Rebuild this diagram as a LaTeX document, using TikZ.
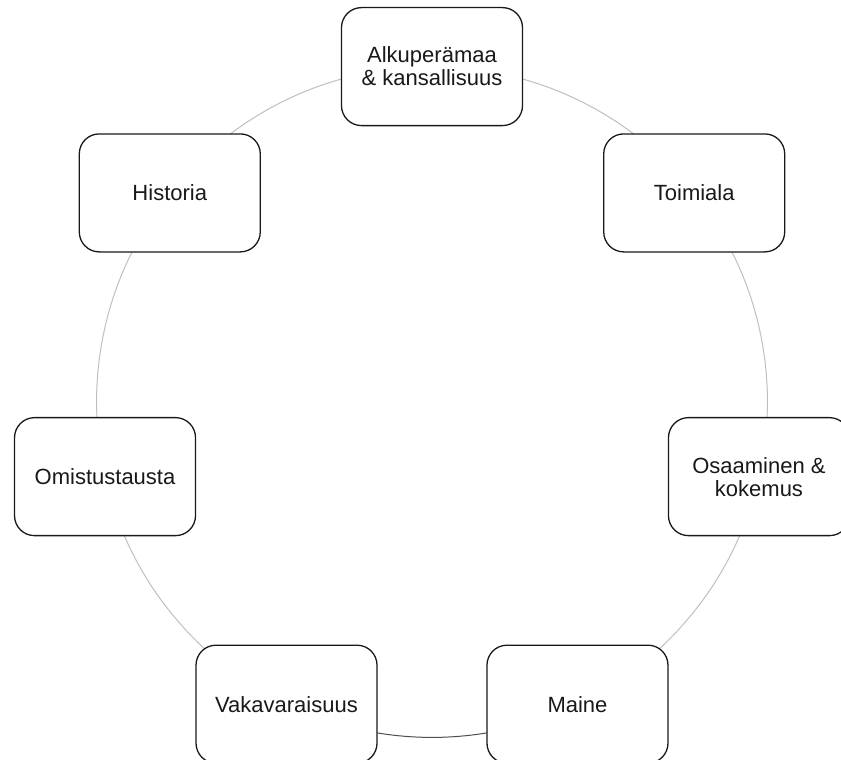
\documentclass[tikz,border=0pt]{standalone}
\usepackage{fontspec}
\setmainfont{Liberation Sans}
\usetikzlibrary{backgrounds}

\begin{document}
\begin{tikzpicture}[x=1pt, y=1pt]
		\tikzstyle {factor} = [draw=black!90, line width=1.3pt, rounded corners=20pt, fill=white, minimum width=181pt, minimum height=118pt, inner sep=0pt, align=center, text=black!90, font=\fontsize{22}{23}\selectfont]
		\tikzstyle {ring} = [draw=black!25, line width=1pt, bend left=25.71, looseness=0.9]
		\tikzstyle {ring dark} = [ring, draw=black!70]

		\useasboundingbox (0, 0) rectangle (841, -760);
		\clip (0, 0) rectangle (841, -760);

		\begin{scope}[shift={(432, -402)}]
			\node[factor] (alku) at (90:335.4) {Alkuperämaa\\\& kansallisuus};
			\node[factor] (toimi) at (38.57:335.4) {Toimiala};
			\node[factor] (osaa) at (-12.86:335.4) {Osaaminen \&\\kokemus};
			\node[factor] (maine) at (-64.29:335.4) {Maine};
			\node[factor] (vaka) at (-115.71:335.4) {Vakavaraisuus};
			\node[factor] (omis) at (-167.14:335.4) {Omistustausta};
			\node[factor] (hist) at (141.43:335.4) {Historia};
		\end{scope}

		% ring behind the boxes
		\begin{scope}[on background layer]
			\draw[ring] (alku.center) to (toimi.center);
			\draw[ring] (toimi.center) to (osaa.center);
			\draw[ring] (osaa.center) to (maine.center);
			\draw[ring dark] (maine.center) to (vaka.center);
			\draw[ring] (vaka.center) to (omis.center);
			\draw[ring] (omis.center) to (hist.center);
			\draw[ring] (hist.center) to (alku.center);
		\end{scope}
\end{tikzpicture}
\end{document}
